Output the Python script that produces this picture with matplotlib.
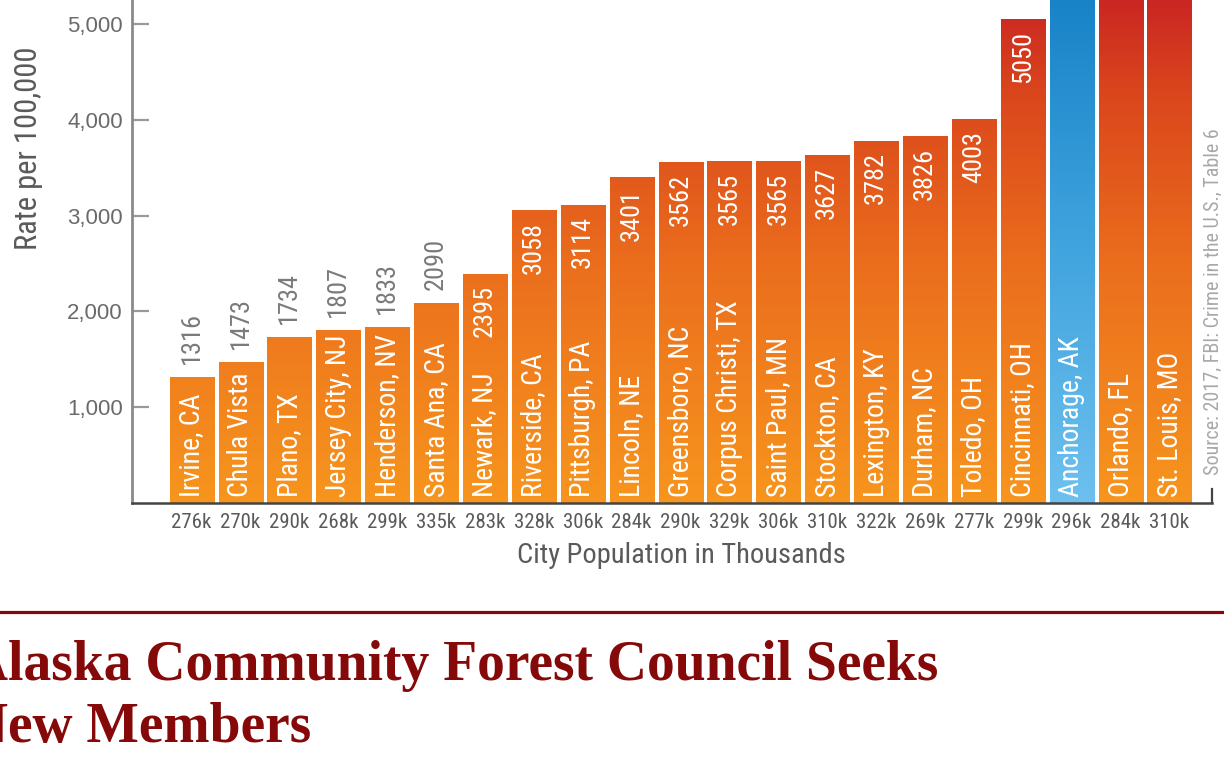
import numpy as np
import matplotlib
matplotlib.use('Agg')
import matplotlib.pyplot as plt
from matplotlib import font_manager
from matplotlib.colors import LinearSegmentedColormap, Normalize
from matplotlib.lines import Line2D

# data
cities = ['Irvine, CA', 'Chula Vista', 'Plano, TX', 'Jersey City, NJ', 'Henderson, NV',
          'Santa Ana, CA', 'Newark, NJ', 'Riverside, CA', 'Pittsburgh, PA', 'Lincoln, NE',
          'Greensboro, NC', 'Corpus Christi, TX', 'Saint Paul, MN', 'Stockton, CA',
          'Lexington, KY', 'Durham, NC', 'Toledo, OH', 'Cincinnati, OH', 'Anchorage, AK',
          'Orlando, FL', 'St. Louis, MO']
rates = [1316, 1473, 1734, 1807, 1833, 2090, 2395, 3058, 3114, 3401, 3562, 3565, 3565,
         3627, 3782, 3826, 4003, 5050, 5416, 5450, 5990]
populations = ['276k', '270k', '290k', '268k', '299k', '335k', '283k', '328k', '306k',
               '284k', '290k', '329k', '306k', '310k', '322k', '269k', '277k', '299k',
               '296k', '284k', '310k']
highlight = 'Anchorage, AK'
yticks = [1000, 2000, 3000, 4000, 5000]

# the chart uses a condensed grotesque; take a condensed face if one is installed,
# otherwise Liberation Sans set a bit smaller so the lengths come out about right
installed = {f.name for f in font_manager.fontManager.ttflist}
if 'Roboto Condensed' in installed:
    narrow, k = ['Roboto Condensed', 'DejaVu Sans'], 1.0
elif 'Liberation Sans Narrow' in installed:
    narrow, k = ['Liberation Sans Narrow', 'DejaVu Sans'], 1.0
else:
    narrow, k = ['Liberation Sans', 'DejaVu Sans'], 0.82
regular = ['Liberation Sans', 'DejaVu Sans']

orange_cmap = LinearSegmentedColormap.from_list(
    'orng', [(0, '#F7951D'), (0.45, '#EB6E1D'), (0.78, '#DA461C'), (1.0, '#C61E24')])
blue_cmap = LinearSegmentedColormap.from_list(
    'blu', [(0, '#6DC0EE'), (0.5, '#3FA3DD'), (1.0, '#1580C6')])
norm = Normalize(0, 5500)

fig = plt.figure(figsize=(12.24, 7.6), dpi=100)
ax = fig.add_axes([132 / 1224, 1 - 503 / 760, 1080 / 1224, 503 / 760])

x = np.arange(len(cities))
bars = ax.bar(x, rates, width=0.9, color='none', edgecolor='none')

for i, (b, v, name) in enumerate(zip(bars, rates, cities)):
    cmap = blue_cmap if name == highlight else orange_cmap
    grad = np.linspace(0, v, 256).reshape(-1, 1)
    im = ax.imshow(grad, cmap=cmap, norm=norm, origin='lower', aspect='auto',
                   extent=[b.get_x(), b.get_x() + b.get_width(), 0, v], zorder=2)
    im.set_clip_path(b)
    # city name at the bottom of the bar
    ax.annotate(name, xy=(i, 0), xytext=(0, 4.5), textcoords='offset points',
                rotation=90, ha='center', va='bottom', color='white',
                fontsize=20 * k, family=narrow, zorder=3)
    # value label
    if v >= 2300:
        ax.annotate(str(v), xy=(i, v), xytext=(0, -8.5), textcoords='offset points',
                    rotation=90, ha='center', va='top', color='white',
                    fontsize=19 * k, family=narrow, zorder=3, annotation_clip=True)
    else:
        ax.annotate(str(v), xy=(i, v), xytext=(0, 9.5), textcoords='offset points',
                    rotation=90, ha='center', va='bottom', color='#7a7a7a',
                    fontsize=19 * k, family=narrow, zorder=3)

ax.set_xlim(-1.22, 20.87)
ax.set_ylim(0, 5250)

ax.set_yticks(yticks)
ax.set_yticklabels(['{:,}'.format(t) for t in yticks], family=regular, fontsize=16,
                   color='#6a6a6a')
ax.tick_params(axis='y', direction='in', length=12, width=1.6, color='#9a9a9a', pad=6.5)
ax.set_xticks(x)
ax.set_xticklabels(populations, family=narrow, fontsize=15 * k, color='#5a5a5a')
ax.tick_params(axis='x', length=0, pad=7.5)

ax.set_ylabel('Rate per 100,000', family=narrow, fontsize=22 * k, color='#5a5a5a')
ax.yaxis.set_label_coords(-0.0824, 0.706)
ax.set_xlabel('City Population in Thousands', family=narrow, fontsize=20.5 * k, color='#5a5a5a')
ax.xaxis.set_label_coords(0.509, -0.077)

ax.spines['top'].set_visible(False)
ax.spines['left'].set_color('#8a8a8a')
ax.spines['left'].set_linewidth(2)
ax.spines['bottom'].set_color('#444444')
ax.spines['bottom'].set_linewidth(1.8)
ax.spines['right'].set_color('#444444')
ax.spines['right'].set_linewidth(1.6)
ax.spines['right'].set_bounds(0, 150)

ax.text(1.0015, 0.055, 'Source: 2017, FBI: Crime in the U.S., Table 6', transform=ax.transAxes,
        rotation=90, ha='center', va='bottom', fontsize=14.5 * k, family=narrow, color='#a8a8a8')

# page heading below the chart (cut at the left edge, as on the page)
serif = ['Liberation Serif', 'DejaVu Serif']
fig.add_artist(Line2D([0, 1], [1 - 612 / 760, 1 - 612 / 760], color='#850909', lw=2.3))
fig.text(-32 / 1224, 1 - 680 / 760, 'Alaska Community Forest Council Seeks',
         family=serif, fontweight='bold', fontsize=40, color='#850909',
         ha='left', va='baseline')
fig.text(-32 / 1224, 1 - 742 / 760, 'New Members',
         family=serif, fontweight='bold', fontsize=40, color='#850909',
         ha='left', va='baseline')

fig.savefig('out.png', dpi=100)
